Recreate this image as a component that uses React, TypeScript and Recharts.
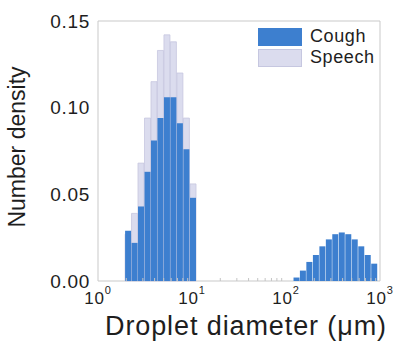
import React from "react";
import { BarChart, Bar, XAxis, YAxis, Legend, ReferenceArea } from "recharts";

// bin centres of the histogram (droplet diameter, µm)
const DIAMETERS = [
  2.1, 2.46, 2.88, 3.38, 3.96, 4.64, 5.44, 6.37, 7.47, 8.76, 10.3,
  130, 152, 178, 209, 245, 287, 336, 394, 462, 541, 635, 744, 872,
];

const COUGH = [
  0.029, 0.022, 0.043, 0.063, 0.081, 0.094, 0.106, 0.106, 0.091, 0.076, 0.048,
  0.002, 0.006, 0.011, 0.015, 0.02, 0.024, 0.027, 0.028, 0.027, 0.024, 0.02, 0.015, 0.01,
];

const SPEECH = [
  0.027, 0.039, 0.068, 0.094, 0.115, 0.133, 0.142, 0.138, 0.12, 0.094, 0.056,
  null, null, null, null, null, null, null, null, null, null, null, null, null,
];

const X_TICKS = [
  1, 2, 3, 4, 5, 6, 7, 8, 9,
  10, 20, 30, 40, 50, 60, 70, 80, 90,
  100, 200, 300, 400, 500, 600, 700, 800, 900, 1000,
];
const Y_TICKS = [0, 0.05, 0.1, 0.15];

const SERIES = [
  { key: "cough", name: "Cough", fill: "#3d7fcf", stroke: "#3d7fcf" },
  { key: "speech", name: "Speech", fill: "#dbdcee", stroke: "#c6c7e0" },
];

const FONT = '"Liberation Sans", Arial, sans-serif';
const TEXT = "#1e1e1e";

const data = DIAMETERS.map((d, i) => ({ d, cough: COUGH[i], speech: SPEECH[i] }));

function LogTick({ x, y, payload }: any) {
  const v = payload.value as number;
  const exp = Math.log10(v);
  const major = Math.abs(exp - Math.round(exp)) < 1e-6;
  if (!major) {
    return <line x1={x} x2={x} y1={y} y2={y - 3} stroke="#c4c4c4" strokeWidth={1} />;
  }
  return (
    <text x={x} y={y + 23} textAnchor="middle" fontFamily={FONT} fill={TEXT} fontSize={17} letterSpacing={0.8}>
      10
      <tspan dy={-10} fontSize={11}>
        {Math.round(exp)}
      </tspan>
    </text>
  );
}

function LegendBox() {
  return (
    <div style={{ fontFamily: FONT, fontSize: 18, color: TEXT, letterSpacing: 0.6 }}>
      {SERIES.map((s) => (
        <div key={s.key} style={{ display: "flex", alignItems: "center", height: 21 }}>
          <div
            style={{
              width: 44,
              height: 18,
              background: s.fill,
              border: `1px solid ${s.stroke}`,
              boxSizing: "border-box",
              marginRight: 8,
            }}
          />
          <span>{s.name}</span>
        </div>
      ))}
    </div>
  );
}

export default function App() {
  return (
    <div style={{ position: "absolute", left: 0, top: 0, background: "#fff" }}>
      <BarChart
        width={395}
        height={341}
        data={data}
        margin={{ top: 21, right: 15, bottom: 0, left: 0 }}
        barSize={6}
        barGap={-6}
      >
        <ReferenceArea x1={1} x2={1000} y1={0} y2={0.15} fill="none" stroke="#c9c9c9" strokeWidth={1} />
        <XAxis
          dataKey="d"
          type="number"
          scale="log"
          domain={[1, 1000]}
          ticks={X_TICKS}
          tickCount={3}
          interval={0}
          height={60}
          tickSize={0}
          tickMargin={0}
          axisLine={false}
          tickLine={false}
          tick={<LogTick />}
          label={{
            value: "Droplet diameter (\u03bcm)",
            position: "insideBottom",
            dx: 7,
            offset: 6,
            style: { fontFamily: FONT, fontSize: 27, fill: TEXT, letterSpacing: 0.9 },
          }}
        />
        <YAxis
          domain={[0, 0.15]}
          ticks={Y_TICKS}
          width={98}
          axisLine={false}
          tickLine={false}
          tickFormatter={(v: number) => v.toFixed(2)}
          tick={{ fontFamily: FONT, fontSize: 19, fill: TEXT, letterSpacing: 0.7 }}
          label={{
            value: "Number density",
            angle: -90,
            position: "insideLeft",
            dx: 12,
            dy: -4,
            style: { fontFamily: FONT, fontSize: 23, fill: TEXT, textAnchor: "middle" },
          }}
        />
        <Bar
          dataKey="speech"
          name="Speech"
          fill={SERIES[1].fill}
          stroke={SERIES[1].stroke}
          strokeWidth={0.8}
          isAnimationActive={false}
        />
        <Bar dataKey="cough" name="Cough" fill={SERIES[0].fill} isAnimationActive={false} />
        <Legend
          layout="vertical"
          align="center"
          verticalAlign="middle"
          content={() => <LegendBox />}
          wrapperStyle={{ top: 26, left: 258, width: "auto", height: "auto" }}
        />
      </BarChart>
    </div>
  );
}
